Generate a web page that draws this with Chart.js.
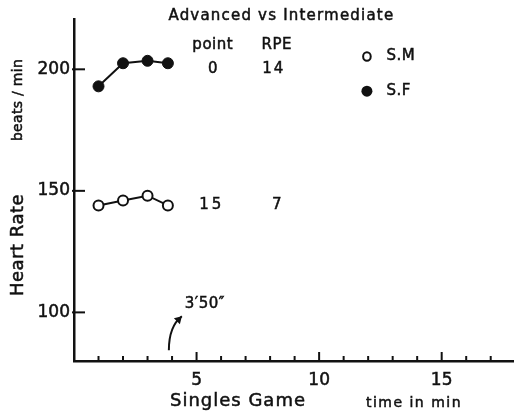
<!DOCTYPE html>
<html>
<head>
<meta charset="utf-8">
<script src="https://cdn.jsdelivr.net/npm/chart.js@4.4.1/dist/chart.umd.min.js"></script>
<style>
  html, body { margin: 0; padding: 0; background: #fff; overflow: hidden; }
  #wrap { width: 514px; height: 415px; position: relative; overflow: hidden; }
  canvas { display: block; }
</style>
</head>
<body>
<div id="wrap"><canvas id="chart"></canvas></div>
<script>
// game time (min) of each reading, 3'50" for the last one
const gameTimes = [1, 2, 3, 3.83]
const heartRateSM = [144, 146, 148, 144]
const heartRateSF = [193, 202.5, 203.5, 202.5]
const yTickValues = [100, 150, 200]
const xTickValues = [5, 10, 15]
const minorTicks = [1, 2, 3, 4, 6, 7, 8, 9, 11, 12, 13, 14, 16, 17]
const tableHeader = ['point', 'RPE']
const rowSF = ['0', '14']
const rowSM = ['15', '7']

const FONT = '"DejaVu Sans", sans-serif'
const INK = '#111'

const toPoints = (xs, ys) => xs.map((x, i) => ({x, y: ys[i]}))

const extrasPlugin = {
    id: 'extras',
    afterDraw(chart) {
        const {ctx, chartArea} = chart
        const xs = chart.scales.x
        const ys = chart.scales.y
        const px = v => xs.getPixelForValue(v)
        const py = v => ys.getPixelForValue(v)

        ctx.save()
        ctx.strokeStyle = INK
        ctx.fillStyle = INK
        ctx.lineCap = 'butt'

        // tick marks pointing into the plot
        ctx.lineWidth = 2
        minorTicks.forEach(v => {
            ctx.beginPath()
            ctx.moveTo(px(v), chartArea.bottom)
            ctx.lineTo(px(v), chartArea.bottom - 5)
            ctx.stroke()
        })
        xTickValues.forEach(v => {
            ctx.beginPath()
            ctx.moveTo(px(v), chartArea.bottom)
            ctx.lineTo(px(v), chartArea.bottom - 9)
            ctx.stroke()
        })
        yTickValues.forEach(v => {
            ctx.beginPath()
            ctx.moveTo(chartArea.left - 2, py(v))
            ctx.lineTo(chartArea.left + 11, py(v))
            ctx.stroke()
        })

        const text = (str, x, y, size, align = 'center', spacing = 0) => {
            ctx.font = `${size}px ${FONT}`
            ctx.letterSpacing = `${spacing}px`
            ctx.textAlign = align
            ctx.textBaseline = 'middle'
            ctx.lineWidth = 0.5
            ctx.fillText(str, x, y)
            ctx.strokeText(str, x, y)
        }

        // title and little table
        text('Advanced vs Intermediate', px(8.46), py(221.8), 15, 'center', 1.2)
        text(tableHeader[0], px(5.66), py(209.9), 15, 'center', 0.5)
        text(tableHeader[1], px(8.27), py(209.9), 15, 'center', 0.5)
        text(rowSF[0], px(5.66), py(200), 15)
        text(rowSF[1], px(8.15), py(200), 15, 'center', 2)
        text(rowSM[0], px(5.62), py(144.2), 15, 'center', 3)
        text(rowSM[1], px(8.27), py(144.2), 15)

        // legend
        ctx.lineWidth = 2
        ctx.beginPath()
        ctx.ellipse(px(11.95), py(205.3), 3.8, 4.3, 0, 0, Math.PI * 2)
        ctx.stroke()
        ctx.beginPath()
        ctx.arc(px(11.95), py(191), 5.5, 0, Math.PI * 2)
        ctx.fill()
        text('S.M', px(12.75), py(205.3), 15, 'left', 0.5)
        text('S.F', px(12.75), py(191), 15, 'left', 0.5)

        // end of game marker
        text('3\u203250\u2033', px(4.52), py(103.3), 15, 'left', 0.5)
        const tx = px(3.87), ty = py(84.4)
        const hx = px(4.4), hy = py(98.4)
        ctx.lineWidth = 2
        ctx.beginPath()
        ctx.moveTo(tx, ty)
        ctx.quadraticCurveTo(tx, hy + 10, hx, hy)
        ctx.stroke()
        ctx.beginPath()
        ctx.moveTo(hx, hy)
        ctx.lineTo(hx - 8, hy + 2)
        ctx.lineTo(hx - 2, hy + 8)
        ctx.closePath()
        ctx.fill()

        // axis titles
        ctx.save()
        ctx.translate(18, 245)
        ctx.rotate(-Math.PI / 2)
        text('Heart Rate', 0, 0, 18, 'center', 0.5)
        ctx.restore()
        ctx.save()
        ctx.translate(18, 100)
        ctx.rotate(-Math.PI / 2)
        text('beats / min', 0, 0, 14, 'center', 0.3)
        ctx.restore()

        text('Singles Game', 238, 401, 18, 'center', 1)
        text('time in min', 414, 403, 14, 'center', 1.5)

        ctx.restore()
    }
}

new Chart(document.getElementById('chart'), {
    type: 'scatter',
    data: {
        datasets: [
            {
                label: 'S.M',
                data: toPoints(gameTimes, heartRateSM),
                showLine: true,
                borderColor: INK,
                borderWidth: 2,
                pointRadius: 5,
                pointBorderWidth: 2,
                pointBackgroundColor: '#fff',
                pointBorderColor: INK
            },
            {
                label: 'S.F',
                data: toPoints(gameTimes, heartRateSF),
                showLine: true,
                borderColor: INK,
                borderWidth: 2,
                pointRadius: 5.5,
                pointBorderWidth: 1,
                pointBackgroundColor: INK,
                pointBorderColor: INK
            }
        ]
    },
    options: {
        responsive: true,
        maintainAspectRatio: false,
        animation: false,
        layout: {autoPadding: false, padding: {top: 19, right: 0, left: 0, bottom: 0}},
        plugins: {
            legend: {display: false},
            tooltip: {enabled: false}
        },
        scales: {
            x: {
                type: 'linear',
                min: 0,
                max: 17.95,
                afterFit: s => {
                    s.height = 54
                    s.paddingLeft = 0
                    s.paddingRight = 0
                },
                afterBuildTicks: s => { s.ticks = xTickValues.map(v => ({value: v})) },
                grid: {display: false, drawTicks: false, tickLength: 0},
                border: {display: true, color: INK, width: 2.5},
                ticks: {
                    color: INK,
                    padding: 9,
                    maxRotation: 0,
                    textStrokeColor: INK,
                    textStrokeWidth: 0.5,
                    font: {family: FONT, size: 17},
                    callback: v => String(v)
                }
            },
            y: {
                type: 'linear',
                min: 80,
                max: 220.7,
                afterFit: s => {
                    s.width = 74
                    s.paddingTop = 0
                    s.paddingBottom = 0
                },
                afterBuildTicks: s => { s.ticks = yTickValues.map(v => ({value: v})) },
                grid: {display: false, drawTicks: false, tickLength: 0},
                border: {display: true, color: INK, width: 2.5},
                ticks: {
                    color: INK,
                    padding: 4,
                    textStrokeColor: INK,
                    textStrokeWidth: 0.5,
                    font: {family: FONT, size: 17},
                    callback: v => String(v)
                }
            }
        }
    },
    plugins: [extrasPlugin]
})
</script>
</body>
</html>
